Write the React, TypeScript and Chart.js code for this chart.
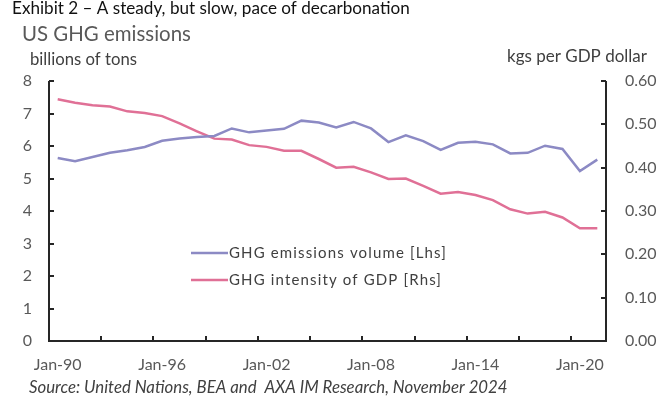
import React, { useEffect, useRef } from "react";
import { Chart, registerables } from "chart.js";

Chart.register(...registerables);

const years: number[] = [];
for (let y = 1990; y <= 2021; y++) years.push(y);
const categories = years.map((y) => "Jan-" + String(y % 100).padStart(2, "0"));

const ghgVolume = [
  5.63, 5.53, 5.66, 5.79, 5.87, 5.97, 6.16, 6.23, 6.28, 6.31, 6.54, 6.42, 6.48, 6.53, 6.78, 6.72,
  6.57, 6.74, 6.54, 6.12, 6.33, 6.15, 5.88, 6.1, 6.13, 6.05, 5.77, 5.79, 6.01, 5.91, 5.23, 5.58,
];
const ghgIntensity = [
  0.558, 0.55, 0.544, 0.541, 0.53, 0.526, 0.519, 0.502, 0.484, 0.467, 0.465, 0.452, 0.448, 0.439,
  0.439, 0.42, 0.4, 0.402, 0.389, 0.374, 0.375, 0.358, 0.34, 0.344, 0.337, 0.325, 0.304, 0.294,
  0.298, 0.285, 0.26, 0.26,
];
const seriesLabels = ["GHG emissions volume [Lhs]", "GHG intensity of GDP [Rhs]"];
const leftTicks = { min: 0, max: 8, step: 1 };
const rightTicks = { min: 0, max: 0.6, step: 0.1 };

const FONT = "Lato, 'Open Sans', sans-serif";

function fitText(
  ctx: CanvasRenderingContext2D,
  text: string,
  x: number,
  y: number,
  width: number,
  style: string,
  color: string
) {
  ctx.font = `${style} 20px ${FONT}`;
  const w = ctx.measureText(text).width;
  const size = (20 * width) / w;
  ctx.font = `${style} ${size}px ${FONT}`;
  ctx.fillStyle = color;
  ctx.textBaseline = "alphabetic";
  ctx.textAlign = "left";
  ctx.fillText(text, x, y);
}

const decorPlugin = {
  id: "decor",
  afterDatasetsDraw(chart: any) {
    const { ctx, chartArea, scales } = chart;
    const { left, right, top, bottom } = chartArea;
    const x = scales.x;
    const y = scales.y;
    const y2 = scales.y2;
    ctx.save();
    ctx.strokeStyle = "#262626";
    ctx.lineWidth = 2;
    ctx.beginPath();
    ctx.moveTo(left, top);
    ctx.lineTo(left, bottom);
    ctx.lineTo(right, bottom);
    ctx.lineTo(right, top);
    ctx.stroke();
    ctx.beginPath();
    y.ticks.forEach((t: any) => {
      const py = Math.round(y.getPixelForValue(t.value));
      ctx.moveTo(left, py);
      ctx.lineTo(left + 5, py);
    });
    y2.ticks.forEach((t: any) => {
      const py = Math.round(y2.getPixelForValue(t.value));
      ctx.moveTo(right, py);
      ctx.lineTo(right - 5, py);
    });
    for (let i = 3; i < categories.length; i += 3) {
      const px = Math.round((x.getPixelForValue(i - 1) + x.getPixelForValue(i)) / 2);
      ctx.moveTo(px, bottom);
      ctx.lineTo(px, bottom - 5);
    }
    ctx.stroke();

    // legend
    const rows = [253, 280];
    ctx.font = `15px ${FONT}`;
    const base = ctx.measureText(chart.data.datasets[0].label).width;
    const n = chart.data.datasets[0].label.length;
    const spacing = (218 - base) / n;
    chart.data.datasets.forEach((ds: any, i: number) => {
      const ry = rows[i];
      ctx.strokeStyle = ds.borderColor;
      ctx.lineWidth = 2.5;
      ctx.beginPath();
      ctx.moveTo(191, ry);
      ctx.lineTo(228, ry);
      ctx.stroke();
      ctx.font = `15px ${FONT}`;
      (ctx as any).letterSpacing = `${spacing}px`;
      ctx.fillStyle = "#404040";
      ctx.textBaseline = "middle";
      ctx.textAlign = "left";
      ctx.fillText(ds.label, 229, ry);
      (ctx as any).letterSpacing = "0px";
    });

    // titles
    fitText(ctx, "Exhibit 2 \u2013 A steady, but slow, pace of decarbonation", 12, 14, 398, "", "#111111");
    fitText(ctx, "US GHG emissions", 22, 41, 169, "", "#595959");
    fitText(ctx, "billions of tons", 30, 65, 107, "", "#404040");
    fitText(ctx, "kgs per GDP dollar", 507, 62, 140, "", "#404040");
    fitText(ctx, "Source: United Nations, BEA and  AXA IM Research, November 2024", 29, 393, 479, "italic", "#404040");
    ctx.restore();
  },
};

export default function App() {
  const ref = useRef<HTMLCanvasElement>(null);
  useEffect(() => {
    if (!ref.current) return;
    const chart = new Chart(ref.current, {
      type: "line",
      data: {
        labels: categories,
        datasets: [
          {
            label: seriesLabels[0],
            data: ghgVolume,
            borderColor: "#8C8AC4",
            borderWidth: 2.5,
            pointRadius: 0,
            yAxisID: "y",
            tension: 0,
          },
          {
            label: seriesLabels[1],
            data: ghgIntensity,
            borderColor: "#E07096",
            borderWidth: 2.5,
            pointRadius: 0,
            yAxisID: "y2",
            tension: 0,
          },
        ],
      },
      options: {
        responsive: false,
        animation: false,
        events: [],
        layout: { padding: { top: 81, left: 0, right: 0, bottom: 0 } },
        plugins: { legend: { display: false }, tooltip: { enabled: false } },
        scales: {
          x: {
            type: "category",
            offset: true,
            grid: { display: false, drawTicks: false },
            border: { display: false },
            afterFit: (s: any) => {
              s.height = 57;
            },
            ticks: {
              autoSkip: false,
              maxRotation: 0,
              minRotation: 0,
              padding: 14,
              color: "#595959",
              font: { family: FONT, size: 16 },
              callback: (_v: any, i: number) => (i % 6 === 0 ? categories[i] : ""),
            },
          },
          y: {
            position: "left",
            min: leftTicks.min,
            max: leftTicks.max,
            grid: { display: false, drawTicks: false },
            border: { display: false },
            afterFit: (s: any) => {
              s.width = 49;
            },
            ticks: {
              stepSize: leftTicks.step,
              padding: 17,
              color: "#595959",
              font: { family: FONT, size: 16 },
            },
          },
          y2: {
            position: "right",
            min: rightTicks.min,
            max: rightTicks.max,
            grid: { display: false, drawTicks: false },
            border: { display: false },
            afterFit: (s: any) => {
              s.width = 64;
            },
            ticks: {
              stepSize: rightTicks.step,
              padding: 19,
              color: "#595959",
              font: { family: FONT, size: 16 },
              callback: (v: any) => Number(v).toFixed(2),
            },
          },
        },
      },
      plugins: [decorPlugin],
    });
    return () => chart.destroy();
  }, []);
  return (
    <div style={{ position: "fixed", left: 0, top: 0, width: 670, height: 398, background: "#fff" }}>
      <canvas ref={ref} width={670} height={398} style={{ width: 670, height: 398, display: "block" }} />
    </div>
  );
}
